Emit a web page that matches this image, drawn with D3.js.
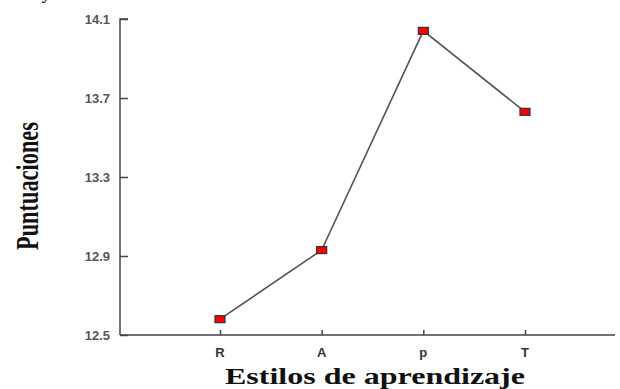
<!DOCTYPE html>
<html><head><meta charset="utf-8">
<script src="https://cdn.jsdelivr.net/npm/d3@7"></script>
<style>body{margin:0;background:#fff}svg{display:block}</style>
</head><body>
<script>
const categories = ["R", "A", "p", "T"];
const values = [12.58, 12.93, 14.04, 13.63];
const yTicks = [12.5, 12.9, 13.3, 13.7, 14.1];
const xTitle = "Estilos de aprendizaje";
const yTitle = "Puntuaciones";

const W = 620, H = 389;
const svg = d3.select("body").append("svg").attr("width", W).attr("height", H);

// cropped caption at the very top (cut off in the reference as well)
svg.append("text").attr("x", 22).attr("y", -1)
  .attr("font-family", "Liberation Serif").attr("font-style", "italic")
  .attr("font-size", 18).attr("fill", "#000")
  .text("de y los estilos.");

const x0 = 120, x1 = 615, yTop = 19, yBot = 335;
const x = d3.scalePoint().domain(categories).range([220, 525]);
const y = d3.scaleLinear().domain([12.5, 14.1]).range([yBot, yTop]);

// y axis (ticks inward)
const yAxis = d3.axisRight(y).tickValues(yTicks).tickSize(8).tickFormat("");
const gy = svg.append("g").attr("transform", `translate(${x0},0)`).call(yAxis);
gy.select(".domain").attr("d", `M8,${yTop}H0V${yBot}`).attr("stroke", "#444").attr("stroke-width", 1.5);
gy.selectAll(".tick line").attr("stroke", "#444").attr("stroke-width", 1.5);

svg.selectAll(".ylab").data(yTicks).enter().append("text")
  .attr("x", 110).attr("y", d => y(d)).attr("dy", "0.35em")
  .attr("text-anchor", "end").attr("font-family", "Liberation Sans")
  .attr("font-weight", "bold").attr("font-size", 13).attr("fill", "#555")
  .text(d => d.toFixed(1));

// x axis (ticks inward/upward)
const xAxis = d3.axisTop(x).tickSize(5).tickFormat("");
const gx = svg.append("g").attr("transform", `translate(0,${yBot})`).call(xAxis);
gx.select(".domain").attr("d", `M${x0},0H${x1}`).attr("stroke", "#444").attr("stroke-width", 1.5);
gx.selectAll(".tick line").attr("stroke", "#444").attr("stroke-width", 1.5);

svg.selectAll(".xlab").data(categories).enter().append("text")
  .attr("x", d => x(d)).attr("y", 357)
  .attr("text-anchor", "middle").attr("font-family", "Liberation Sans")
  .attr("font-weight", "bold").attr("font-size", 13).attr("fill", "#333")
  .text(d => d);

// line
const line = d3.line().x((d, i) => x(categories[i])).y(d => y(d));
svg.append("path").datum(values).attr("d", line)
  .attr("fill", "none").attr("stroke", "#555").attr("stroke-width", 1.6);

// markers
svg.selectAll(".pt").data(values).enter().append("rect")
  .attr("x", (d, i) => x(categories[i]) - 5).attr("y", d => y(d) - 3.5)
  .attr("width", 10).attr("height", 7)
  .attr("fill", "#ff0000").attr("stroke", "#333").attr("stroke-width", 1.2);

// titles
svg.append("text").attr("x", 375).attr("y", 384)
  .attr("text-anchor", "middle").attr("font-family", "Liberation Serif")
  .attr("font-weight", "bold").attr("font-size", 24).attr("fill", "#111")
  .attr("textLength", 300).attr("lengthAdjust", "spacingAndGlyphs")
  .text(xTitle);

svg.append("text").attr("transform", "translate(38,186) rotate(-90)")
  .attr("text-anchor", "middle").attr("font-family", "Liberation Serif")
  .attr("font-weight", "bold").attr("font-size", 31).attr("fill", "#111")
  .attr("textLength", 128).attr("lengthAdjust", "spacingAndGlyphs")
  .text(yTitle);
</script>
</body></html>
